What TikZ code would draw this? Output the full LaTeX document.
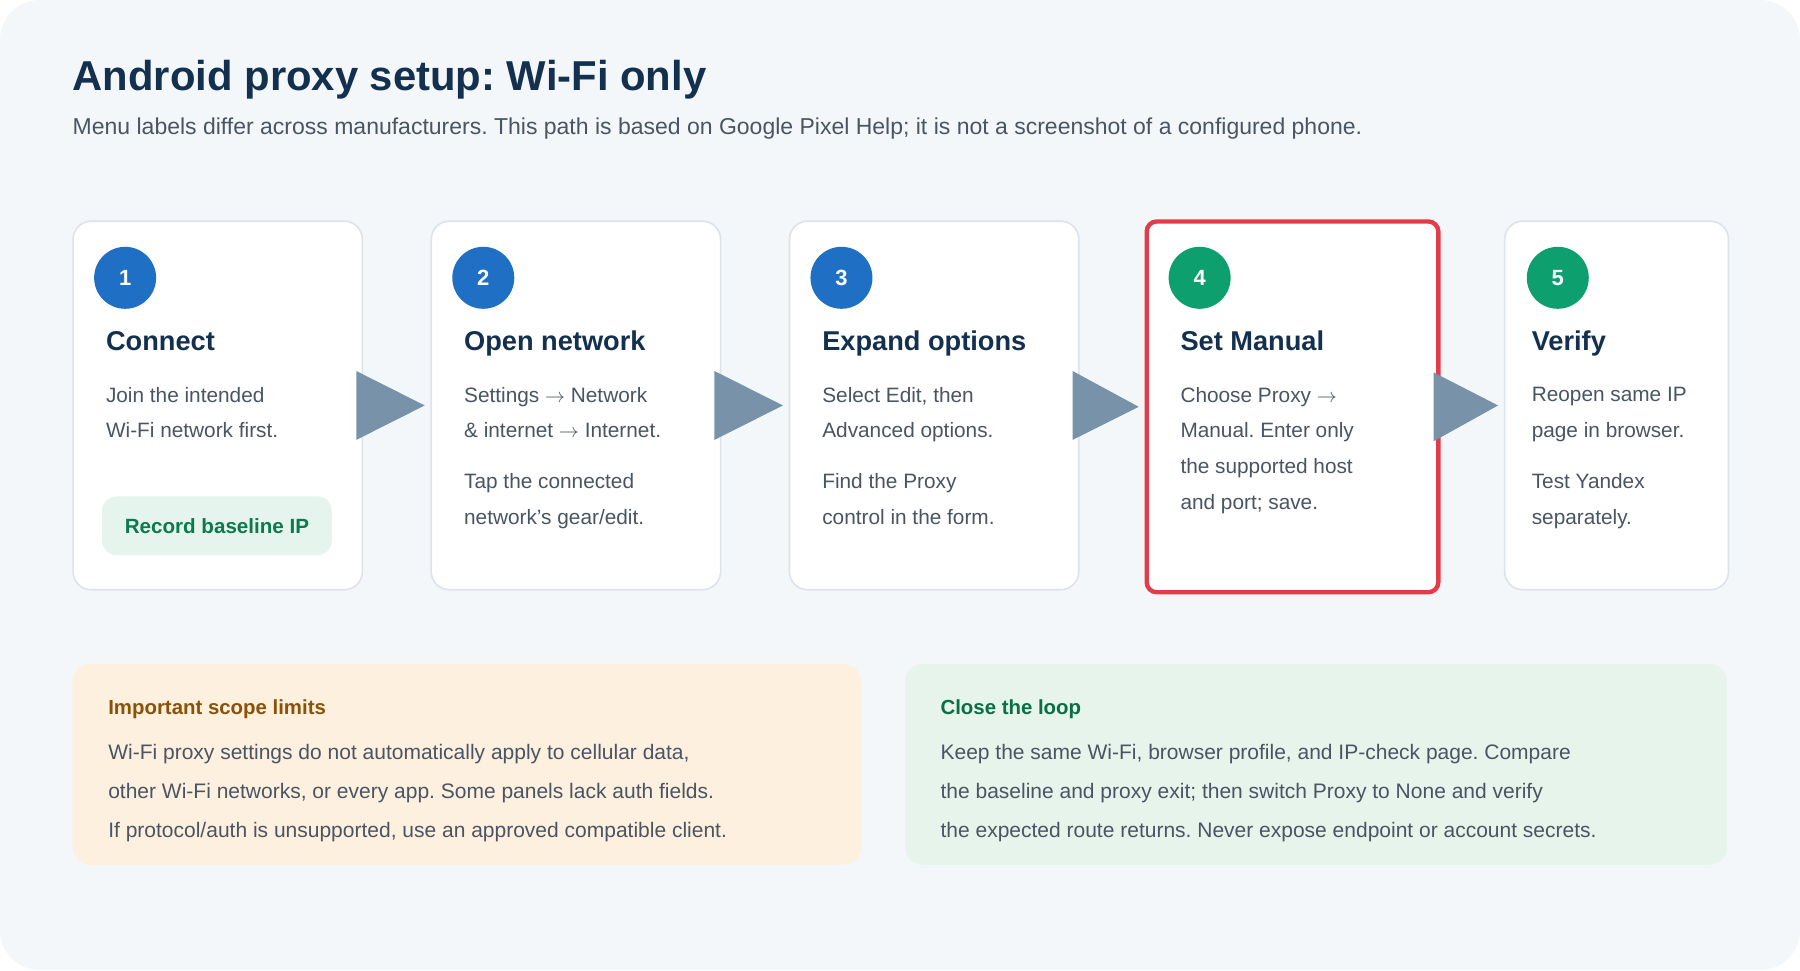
\documentclass[tikz,border=0pt]{standalone}
\usepackage{fontspec}
\setmainfont{Liberation Sans}
\usetikzlibrary{positioning,calc}
\definecolor{navy}{HTML}{14304F}
\definecolor{bodytxt}{HTML}{4A5563}
\definecolor{stepblue}{HTML}{1F6FC5}
\definecolor{stepgreen}{HTML}{0E9F6E}
\definecolor{arrowgray}{HTML}{7892AA}
\definecolor{cardline}{HTML}{DCE3EA}
\definecolor{hilite}{HTML}{E23B4A}
\definecolor{pagebg}{HTML}{F4F7FA}
\definecolor{pillbg}{HTML}{E5F5EE}
\definecolor{pilltxt}{HTML}{0B7A4F}
\definecolor{warnbg}{HTML}{FEF0DF}
\definecolor{warntxt}{HTML}{8A5208}
\definecolor{okbg}{HTML}{E6F4EC}
\definecolor{oktxt}{HTML}{0B6E46}
\tikzset{
  card/.style={draw=cardline, line width=0.8pt, fill=white, rounded corners=9pt,
    minimum width=252*0.574pt, minimum height=321*0.574pt, anchor=north west},
  num/.style={circle, minimum size=54*0.574pt, inner sep=0pt, text=white, font=\bfseries\fontsize{11}{11}\selectfont},
  ctitle/.style={anchor=base west, inner sep=0pt, text=navy, font=\bfseries\fontsize{13.6}{14}\selectfont},
  ctext/.style={anchor=north west, inner sep=0pt, text=bodytxt, align=left,
    font=\fontsize{10.4}{17.8}\selectfont},
  note/.style={rounded corners=9pt, anchor=north west, minimum height=175*0.574pt},
}
\begin{document}
\frenchspacing
\begin{tikzpicture}[x=0.574pt, y=-0.574pt]
  % --- page ---
  \fill[white] (0,0) rectangle (1568,845);
  \fill[pagebg, rounded corners=20pt] (0,0) rectangle (1568,845);
  \useasboundingbox (0,0) rectangle (1568,845);

  % --- heading ---
  \node[anchor=base west, inner sep=0pt, text=navy, font=\bfseries\fontsize{20.9}{21}\selectfont] (title) at (63,79) {Android proxy setup: Wi-Fi only};
  \node[anchor=base west, inner sep=0pt, text=bodytxt, font=\fontsize{11.5}{12}\selectfont] (sub) at (63,117) {Menu labels differ across manufacturers. This path is based on Google Pixel Help; it is not a screenshot of a configured phone.};

  % --- step cards ---
  \node[card] (c1) at (63,192) {};
  \node[card] (c2) at (375,192) {};
  \node[card] (c3) at (687,192) {};
  \node[card, draw=hilite, line width=2.2pt, rounded corners=5pt, minimum width=254*0.574pt, minimum height=323*0.574pt] (c4) at (997,191) {};
  \node[card, minimum width=195*0.574pt] (c5) at (1310,192) {};

  \node[num, fill=stepblue] (n1) at (109,242) {1};
  \node[num, fill=stepblue] (n2) at (421,242) {2};
  \node[num, fill=stepblue] (n3) at (733,242) {3};
  \node[num, fill=stepgreen] (n4) at (1045,242) {4};
  \node[num, fill=stepgreen] (n5) at (1357,242) {5};

  \node[ctitle] (t1) at (92,305) {Connect};
  \node[ctitle] (t2) at (404,305) {Open network};
  \node[ctitle] (t3) at (716,305) {Expand options};
  \node[ctitle] (t4) at (1028,305) {Set Manual};
  \node[ctitle] (t5) at (1334,305) {Verify};

  \node[ctext] (b1) at (92,337) {Join the intended\\Wi-Fi network first.};
  \node[ctext] (b2) at (404,337) {Settings $\rightarrow$ Network\\\& internet $\rightarrow$ Internet.};
  \node[ctext] (d2) at (404,412) {Tap the connected\\network's gear/edit.};
  \node[ctext] (b3) at (716,337) {Select Edit, then\\Advanced options.};
  \node[ctext] (d3) at (716,412) {Find the Proxy\\control in the form.};
  \node[ctext] (b4) at (1028,337) {Choose Proxy $\rightarrow$\\Manual. Enter only\\the supported host\\and port; save.};
  \node[ctext] (b5) at (1334,337) {Reopen same IP\\page in browser.};
  \node[ctext] (d5) at (1334,412) {Test Yandex\\separately.};

  \node[fill=pillbg, rounded corners=7pt, minimum width=200*0.574pt, minimum height=51*0.574pt,
    text=pilltxt, font=\bfseries\fontsize{10.3}{11}\selectfont] (pill) at (189,458) {Record baseline IP};

  % --- arrows between cards ---
  \foreach \a/\b in {c1/c2, c2/c3, c3/c4, c4/c5}
    \fill[arrowgray] ($(\a.east)+(-6,-30)$) -- ($(\b.west)+(-5,0)$) -- ($(\a.east)+(-6,30)$) -- cycle;

  % --- notes ---
  \node[note, fill=warnbg, minimum width=687*0.574pt] (warn) at (63,578) {};
  \node[note, fill=okbg, minimum width=716*0.574pt] (ok) at (788,578) {};

  \node[anchor=base west, inner sep=0pt, text=warntxt, font=\bfseries\fontsize{10.2}{11}\selectfont] (wt) at (94,622) {Important scope limits};
  \node[ctext, font=\fontsize{10.5}{19.6}\selectfont] (wb) at (94,648) {Wi-Fi proxy settings do not automatically apply to cellular data,\\other Wi-Fi networks, or every app. Some panels lack auth fields.\\If protocol/auth is unsupported, use an approved compatible client.};
  \node[anchor=base west, inner sep=0pt, text=oktxt, font=\bfseries\fontsize{10.2}{11}\selectfont] (ot) at (819,622) {Close the loop};
  \node[ctext, font=\fontsize{10.5}{19.6}\selectfont] (ob) at (819,648) {Keep the same Wi-Fi, browser profile, and IP-check page. Compare\\the baseline and proxy exit; then switch Proxy to None and verify\\the expected route returns. Never expose endpoint or account secrets.};
\end{tikzpicture}
\end{document}
